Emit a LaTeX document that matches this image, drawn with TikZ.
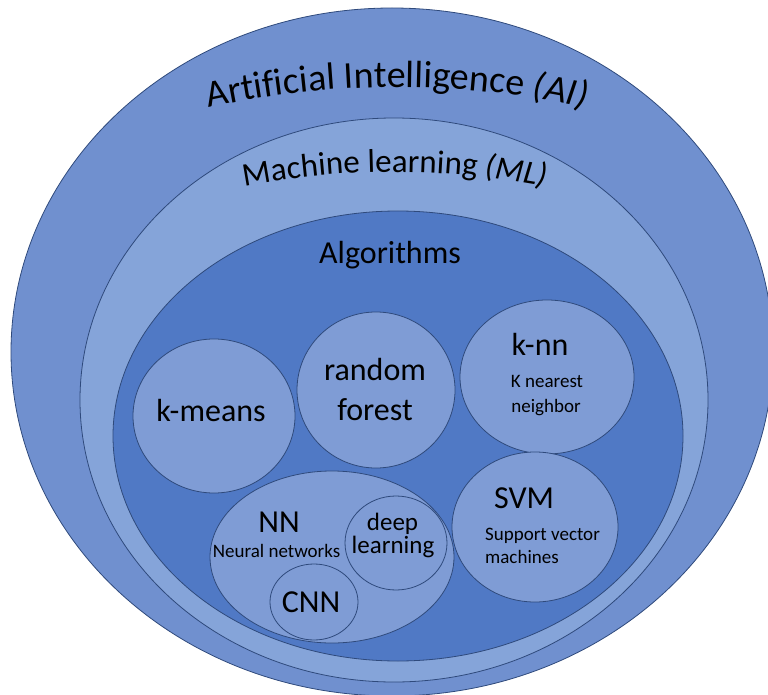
\documentclass[tikz,border=0pt]{standalone}
\usepackage{fontspec}
\setmainfont{Carlito}
\usetikzlibrary{shapes.geometric,decorations.text}
\definecolor{aiblue}{RGB}{112,144,207}
\definecolor{mlblue}{RGB}{133,164,217}
\definecolor{algblue}{RGB}{80,121,197}
\definecolor{itemblue}{RGB}{127,156,213}
\definecolor{edgeblue}{RGB}{47,74,124}
\begin{document}
\begin{tikzpicture}[x=1pt,y=-1pt,
  region/.style={ellipse, draw=edgeblue, line width=0.8pt, inner sep=0pt, outer sep=0pt},
  item/.style={region, fill=itemblue},
  big/.style={font=\fontsize{32}{38}\selectfont, inner sep=0pt, anchor=base, text=black},
  mid/.style={font=\fontsize{25}{28}\selectfont, inner sep=0pt, anchor=base, text=black},
  small/.style={font=\fontsize{19}{22}\selectfont, inner sep=0pt, anchor=base, text=black},
  smallleft/.style={small, anchor=base west}
]
\useasboundingbox (0,0) rectangle (768,695);
\clip (0,0) rectangle (768,695);

% nested regions
\node[region, fill=aiblue, minimum width=762pt, minimum height=688pt] (ai) at (392,352) {};
\node[region, fill=mlblue, minimum width=628pt, minimum height=564pt] (ml) at (394,400) {};
\node[region, fill=algblue, minimum width=570pt, minimum height=450pt] (alg) at (398,436) {};

% curved titles
\path[decorate, decoration={text along path, text align={align=center},
  text={|\fontsize{38}{41}\selectfont|Artificial Intelligence |\fontsize{38}{41}\selectfont\itshape|(AI)}}]
  (177,115.3) .. controls (320.8,77.8) and (473.2,77.8) .. (617,115.3);
\path[decorate, decoration={text along path, text align={align=center},
  text={|\fontsize{33}{36}\selectfont|Machine learning |\fontsize{33}{36}\selectfont\itshape|(ML)}}]
  (195,197.1) .. controls (326.2,163.7) and (463.8,163.7) .. (595,197.1);
\node[big] (algtxt) at (390,263) {Algorithms};

% algorithm circles
\node[item, minimum width=162pt, minimum height=154pt] (kmeans) at (214,416) {};
\node[item, minimum width=158pt, minimum height=156pt] (rf) at (376,390) {};
\node[item, minimum width=174pt, minimum height=154pt] (knn) at (547,377) {};
\node[item, minimum width=166pt, minimum height=150pt] (svm) at (535,527) {};
\node[item, minimum width=244pt, minimum height=172pt] (nn) at (332,557) {};
\node[item, minimum width=102pt, minimum height=94pt] (deep) at (396,543) {};
\node[item, minimum width=88pt, minimum height=76pt] (cnn) at (314,602) {};

% labels
\node[big] (kmeanstxt) at (211,421) {k-means};
\node[big] (rftxta) at (375,380) {random};
\node[big] (rftxtb) at (375,420) {forest};
\node[big] (knntxt) at (540,355) {k-nn};
\node[small] (knntxta) at (547,387) {K nearest};
\node[small] (knntxtb) at (546,412) {neighbor};
\node[big] (svmtxt) at (524,508) {SVM};
\node[smallleft] (svmtxta) at (485,540) {Support vector};
\node[smallleft] (svmtxtb) at (485,563) {machines};
\node[big] (nntxt) at (279,532) {NN};
\node[small] (nntxta) at (276.5,557) {Neural networks};
\node[mid] (deeptxta) at (392.5,530) {deep};
\node[mid] (deeptxtb) at (393,553) {learning};
\node[big] (cnntxt) at (311,612) {CNN};
\end{tikzpicture}
\end{document}
